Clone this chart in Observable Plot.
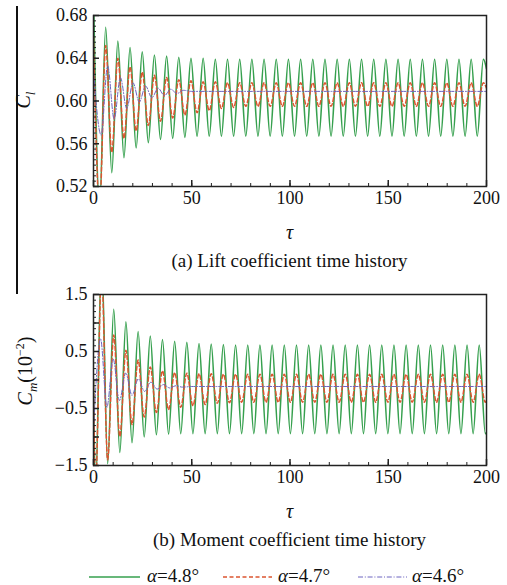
<!DOCTYPE html>
<html>
<head>
<meta charset="utf-8">
<script src="https://cdn.jsdelivr.net/npm/d3@7"></script>
<script src="https://cdn.jsdelivr.net/npm/@observablehq/plot@0.6"></script>
<style>
  html, body { margin: 0; padding: 0; background: #fff; }
  #root { position: relative; width: 507px; height: 585px; background: #fff; font-family: "Liberation Serif", "Times New Roman", serif; color: #111; overflow: hidden; }
  .abs { position: absolute; white-space: nowrap; }
  .ctr { transform: translate(-50%, -50%); }
  .panel { position: absolute; left: 0; }
  .panel text { font-family: "Liberation Serif", serif !important; }
  .ylab { position: absolute; transform: translate(-50%, -50%) rotate(-90deg); white-space: nowrap; font-size: 20px; }
  i { font-style: italic; }
</style>
</head>
<body>
<div id="root"></div>
<script>
// ---------- data ----------
// Lift coefficient: times of the extrema for the green / red curves
const clTau = [0,
  3.1, 6.2, 9.3, 12.4, 15.5, 18.6, 21.7, 24.8, 27.9, 31.0,
  34.1, 37.2, 40.3, 43.4, 46.5, 49.6, 52.7, 55.8, 58.9, 62.0,
  65.1, 68.2, 71.3, 74.4, 77.5, 80.6, 83.7, 86.8, 89.9, 93.0,
  96.1, 99.2, 102.3, 105.4, 108.5, 111.6, 114.7, 117.8, 120.9, 124.0,
  127.1, 130.2, 133.3, 136.4, 139.5, 142.6, 145.7, 148.8, 151.9, 155.0,
  158.1, 161.2, 164.3, 167.4, 170.5, 173.6, 176.7, 179.8, 182.9, 186.0,
  189.1, 192.2, 195.3, 198.4,
  200];
const clGreen = [0.70, 0.50, 0.669, 0.533, 0.656, 0.547, 0.650, 0.556, 0.646, 0.561,
  0.643, 0.564, 0.642, 0.565, 0.641, 0.566, 0.640, 0.567, 0.640, 0.567,
  0.639, 0.567, 0.639, 0.567, 0.639, 0.567, 0.639, 0.567, 0.639, 0.567,
  0.639, 0.567, 0.639, 0.567, 0.639, 0.567, 0.639, 0.567, 0.639, 0.567,
  0.639, 0.567, 0.639, 0.567, 0.639, 0.567, 0.639, 0.567, 0.639, 0.567,
  0.639, 0.567, 0.639, 0.567, 0.639, 0.567, 0.639, 0.567, 0.639, 0.567,
  0.639, 0.567, 0.639, 0.567, 0.639,
  0.630];
const clRed = [0.66, 0.50, 0.652, 0.552, 0.640, 0.565, 0.632, 0.572, 0.627, 0.577,
  0.624, 0.581, 0.622, 0.584, 0.620, 0.587, 0.619, 0.589, 0.618, 0.591,
  0.618, 0.593, 0.617, 0.594, 0.617, 0.595, 0.617, 0.595, 0.617, 0.595,
  0.617, 0.595, 0.617, 0.595, 0.617, 0.595, 0.617, 0.595, 0.617, 0.595,
  0.617, 0.595, 0.617, 0.595, 0.617, 0.595, 0.617, 0.595, 0.617, 0.595,
  0.617, 0.595, 0.617, 0.595, 0.617, 0.595, 0.617, 0.595, 0.617, 0.595,
  0.617, 0.595, 0.617, 0.595, 0.617,
  0.612];
const clBlueTau = [0, 3.9, 7.2, 10.5, 13.7, 16.9, 20.1, 23.3, 26.5, 29.7, 32.9, 36.1, 39.3, 42.5, 45.7, 50, 200];
const clBlue = [0.628, 0.568, 0.633, 0.583, 0.622, 0.593, 0.617, 0.599, 0.614, 0.603, 0.612, 0.605, 0.611, 0.607, 0.610, 0.609, 0.609];

// Moment coefficient (x 10^-2)
const cmTau = [0, 1.0,
  4.1, 7.2, 10.3, 13.4, 16.5, 19.6, 22.7, 25.8, 28.9, 32.0,
  35.1, 38.2, 41.3, 44.4, 47.5, 50.6, 53.7, 56.8, 59.9, 63.0,
  66.1, 69.2, 72.3, 75.4, 78.5, 81.6, 84.7, 87.8, 90.9, 94.0,
  97.1, 100.2, 103.3, 106.4, 109.5, 112.6, 115.7, 118.8, 121.9, 125.0,
  128.1, 131.2, 134.3, 137.4, 140.5, 143.6, 146.7, 149.8, 152.9, 156.0,
  159.1, 162.2, 165.3, 168.4, 171.5, 174.6, 177.7, 180.8, 183.9, 187.0,
  190.1, 193.2, 196.3, 199.4,
  200];
const cmGreen = [0.0, -2.0, 2.2, -1.47, 1.24, -1.27, 1.02, -1.10, 0.85, -1.00,
  0.77, -0.96, 0.71, -0.95, 0.68, -0.94, 0.66, -0.94, 0.64, -0.94,
  0.63, -0.94, 0.62, -0.94, 0.615, -0.94, 0.615, -0.94, 0.615, -0.94,
  0.615, -0.94, 0.615, -0.94, 0.615, -0.94, 0.615, -0.94, 0.615, -0.94,
  0.615, -0.94, 0.615, -0.94, 0.615, -0.94, 0.615, -0.94, 0.615, -0.94,
  0.615, -0.94, 0.615, -0.94, 0.615, -0.94, 0.615, -0.94, 0.615, -0.94,
  0.615, -0.94, 0.615, -0.94, 0.615, -0.94,
  -0.92];
const cmRed = [0.0, -1.9, 1.9, -1.40, 0.79, -0.99, 0.52, -0.78, 0.35, -0.65,
  0.23, -0.57, 0.16, -0.52, 0.13, -0.48, 0.12, -0.45, 0.11, -0.43,
  0.11, -0.41, 0.10, -0.40, 0.10, -0.39, 0.10, -0.39, 0.10, -0.39,
  0.10, -0.39, 0.10, -0.39, 0.10, -0.39, 0.10, -0.39, 0.10, -0.39,
  0.10, -0.39, 0.10, -0.39, 0.10, -0.39, 0.10, -0.39, 0.10, -0.39,
  0.10, -0.39, 0.10, -0.39, 0.10, -0.39, 0.10, -0.39, 0.10, -0.39,
  0.10, -0.39, 0.10, -0.39, 0.10, -0.39,
  -0.36];
const cmBlueTau = [0, 3.6, 6.8, 10.0, 13.2, 16.4, 19.6, 22.8, 26.0, 29.2, 32.4, 35.6, 38.8, 42.0, 45.2, 50, 200];
const cmBlue = [-0.9, 0.72, -0.48, 0.37, -0.36, 0.12, -0.27, 0.02, -0.20, -0.04, -0.16, -0.08, -0.14, -0.10, -0.125, -0.114, -0.114];

// ticks
const xMajor = [0, 50, 100, 150, 200];
const xMinor = d3.range(0, 201, 10);
const clLabels = [0.52, 0.56, 0.60, 0.64, 0.68];
const clMinor = d3.range(0.52, 0.6801, 0.005);
const cmLabels = [-1.5, -0.5, 0.5, 1.5];
const cmMajor = [-1.5, -1, -0.5, 0, 0.5, 1, 1.5];
const cmMinor = d3.range(-1.5, 1.501, 0.1);

const seriesNames = ["α=4.8°", "α=4.7°", "α=4.6°"];
const colors = ["#36a04e", "#dc5530", "#6c64c0"];
const dashes = [null, "4,2.5", "5,1.8,1,1.8"];
const widths = [1.6, 1.5, 1.0];

// ---------- drawing ----------
const W = 507, H = 215, mL = 93, mR = 21, mT = 15, mB = 29;
const plotW = W - mL - mR, plotH = H - mT - mB;
const tickCol = "#222";
const serif = "Liberation Serif";

function panel(cfg) {
  const mk = (tau, vals) => tau.map((t, i) => ({t, v: vals[i]}));
  const sets = [mk(cfg.tau, cfg.green), mk(cfg.tau, cfg.red), mk(cfg.blueTau, cfg.blue)];
  return Plot.plot({
    width: W, height: H,
    marginLeft: mL, marginRight: mR, marginTop: mT, marginBottom: mB,
    x: {domain: [0, 200], axis: null},
    y: {domain: cfg.yDomain, axis: null},
    style: {fontFamily: serif, fontSize: "18px", color: "#111", background: "transparent", overflow: "visible"},
    marks: [
      ...sets.map((d, k) => Plot.line(d, {
        x: "t", y: "v", stroke: colors[k], strokeWidth: widths[k],
        strokeDasharray: dashes[k] || undefined, curve: "monotone-x", clip: true
      })),
      Plot.ruleX(xMinor, {x: d => d, insetTop: plotH - 3, stroke: tickCol, strokeWidth: 1}),
      Plot.ruleX(xMajor, {x: d => d, insetTop: plotH - 6, stroke: tickCol, strokeWidth: 1.5}),
      Plot.ruleY(cfg.yMinor, {y: d => d, insetRight: plotW - 3, stroke: tickCol, strokeWidth: 1}),
      Plot.ruleY(cfg.yMajor, {y: d => d, insetRight: plotW - 6, stroke: tickCol, strokeWidth: 1.5}),
      Plot.frame({stroke: tickCol, strokeWidth: 1.5}),
      Plot.text(xMajor, {x: d => d, frameAnchor: "bottom", lineAnchor: "top", dy: 5, text: d => String(d),
        fontSize: "18px", fontFamily: serif, fill: "#111"}),
      Plot.text(cfg.yLabels, {y: d => d, frameAnchor: "left", textAnchor: "end", dx: -6, text: d => cfg.fmt(d),
        fontSize: "18px", fontFamily: serif, fill: "#111"})
    ]
  });
}

const root = document.getElementById("root");

const p1 = panel({tau: clTau, green: clGreen, red: clRed, blueTau: clBlueTau, blue: clBlue,
  yDomain: [0.52, 0.68], yMinor: clMinor, yMajor: clLabels, yLabels: clLabels, fmt: d3.format(".2f")});
p1.classList.add("panel"); p1.style.top = "0px";
root.appendChild(p1);

const p2 = panel({tau: cmTau, green: cmGreen, red: cmRed, blueTau: cmBlueTau, blue: cmBlue,
  yDomain: [-1.5, 1.5], yMinor: cmMinor, yMajor: cmMajor, yLabels: cmLabels, fmt: d3.format(".1f")});
p2.classList.add("panel"); p2.style.top = "279px";
root.appendChild(p2);

function addText(html, x, y, size, extra) {
  const d = document.createElement("div");
  d.className = "abs ctr";
  d.style.left = x + "px"; d.style.top = y + "px"; d.style.fontSize = size + "px";
  if (extra) Object.assign(d.style, extra);
  d.innerHTML = html;
  root.appendChild(d);
  return d;
}

// stray vertical rule on the left
const vr = document.createElement("div");
vr.className = "abs";
Object.assign(vr.style, {left: "16px", top: "6px", width: "1.5px", height: "288px", background: "#111"});
root.appendChild(vr);

// axis titles and captions
const cx = mL + plotW / 2;
addText("<i>τ</i>", cx, 232, 20);
addText("(a) Lift coefficient time history", cx, 261, 19);
addText("<i>τ</i>", cx, 511, 20);
addText("(b) Moment coefficient time history", cx, 540, 19);

const yl1 = document.createElement("div");
yl1.className = "ylab";
yl1.style.left = "25px"; yl1.style.top = "100px";
yl1.innerHTML = "<i>C</i><sub style='font-size:13px'><i>l</i></sub>";
root.appendChild(yl1);

const yl2 = document.createElement("div");
yl2.className = "ylab";
yl2.style.left = "27px"; yl2.style.top = "371px";
yl2.innerHTML = "<i>C</i><sub style='font-size:13px'><i>m</i></sub>(10<sup style='font-size:12px'>−2</sup>)";
root.appendChild(yl2);

// legend
const legX = [[89, 140, 147], [223, 272, 278], [358, 407, 412]];
seriesNames.forEach((name, k) => {
  const [x1, x2, tx] = legX[k];
  const s = document.createElementNS("http://www.w3.org/2000/svg", "svg");
  s.setAttribute("width", x2 - x1); s.setAttribute("height", 6);
  s.style.position = "absolute"; s.style.left = x1 + "px"; s.style.top = "574px";
  const ln = document.createElementNS("http://www.w3.org/2000/svg", "line");
  ln.setAttribute("x1", 0); ln.setAttribute("x2", x2 - x1); ln.setAttribute("y1", 3); ln.setAttribute("y2", 3);
  ln.setAttribute("stroke", colors[k]); ln.setAttribute("stroke-width", widths[k]);
  if (dashes[k]) ln.setAttribute("stroke-dasharray", dashes[k]);
  s.appendChild(ln);
  root.appendChild(s);
  const t = document.createElement("div");
  t.className = "abs";
  Object.assign(t.style, {left: tx + "px", top: "568px", fontSize: "19px", lineHeight: "16px"});
  t.innerHTML = "<i>α</i>" + name.slice(1);
  root.appendChild(t);
});
</script>
</body>
</html>
